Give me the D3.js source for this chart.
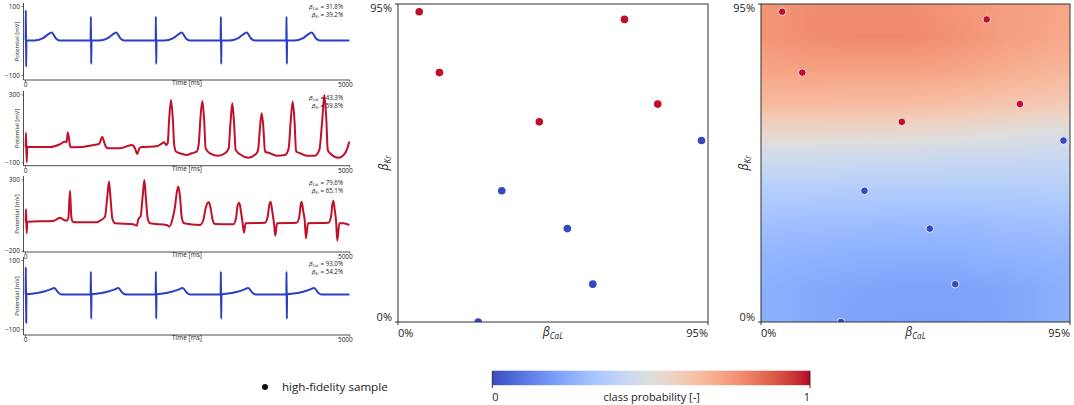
<!DOCTYPE html>
<html><head><meta charset="utf-8">
<script src="https://cdn.jsdelivr.net/npm/d3@7"></script>
<style>body{margin:0;background:#fff;} svg{display:block;font-family:"Open Sans",sans-serif;}</style>
</head><body>
<script>
// ---------------- DATA ----------------
const timeTicks = [0, 5000];
// [time ms, potential mV]
const trace1 = [[0,0],[10,0],[13,88],[18,-76],[22,0],
 [140,0],[270,6],[350,17],[410,23],[480,5],[530,0],
 [1012,0],[1016,69],[1021,-68],[1025,0],
 [1140,0],[1270,6],[1350,17],[1405,23],[1475,5],[1530,0],
 [2015,0],[2018,69],[2023,-68],[2027,0],
 [2150,0],[2280,6],[2360,17],[2415,23],[2485,5],[2540,0],
 [3017,0],[3020,69],[3025,-68],[3029,0],
 [3150,0],[3280,6],[3360,17],[3417,23],[3487,5],[3540,0],
 [4029,0],[4032,69],[4037,-68],[4041,0],
 [4150,0],[4280,6],[4360,17],[4420,23],[4490,5],[4545,0],
 [5000,0]];
const trace2 = [[0,-12],[10,-10],[15,74],[26,-100],[36,-10],[385,-10],[540,6],[617,22],[642,18],[658,76],[678,41],[694,-4],[719,-12],
 [1131,6],[1156,18],[1192,51],[1218,22],[1249,-10],[1285,-18],[1465,-18],[1644,2],[1670,-2],[1696,-18],[1732,-51],[1763,-18],[1799,-10],
 [2030,-6],[2107,10],[2148,18],[2174,2],[2200,12],[2222,150],[2251,267],[2280,150],[2300,2],[2328,-37],[2390,-47],[2492,-57],[2570,-47],[2647,-37],
 [2677,2],[2703,150],[2734,261],[2762,150],[2785,-18],[2852,-47],[2981,-61],[3083,-47],[3140,-18],[3166,120],[3196,247],[3225,120],[3248,-27],
 [3315,-53],[3443,-73],[3572,-47],[3597,-18],[3622,100],[3649,188],[3676,100],[3700,-37],[3777,-47],[3880,-61],[4008,-57],[4065,-18],
 [4096,139],[4127,257],[4156,139],[4180,-37],[4240,-47],[4342,-61],[4471,-61],[4538,-27],[4585,159],[4615,296],[4645,159],[4668,-27],
 [4702,-47],[4831,-73],[4933,-47],[4969,-18],[5000,22]];
const trace3 = [[0,3],[10,3],[15,90],[26,-78],[36,3],[437,8],[488,20],[540,31],[601,15],[642,10],[668,27],[694,221],[714,38],[735,3],[771,-1],
 [1105,-1],[1156,10],[1233,38],[1269,179],[1295,284],[1321,155],[1346,27],[1388,-8],[1670,-15],[1722,-25],[1747,20],[1783,43],[1814,179],
 [1840,295],[1866,155],[1891,27],[1927,-8],[2184,-20],[2225,-32],[2277,27],[2313,108],[2338,202],[2364,249],[2390,179],[2415,38],[2451,-8],
 [2698,-20],[2749,15],[2785,97],[2811,132],[2837,139],[2862,97],[2893,15],[2929,-13],[3212,-15],[3253,27],[3279,120],[3304,136],[3330,73],
 [3356,-8],[3376,-74],[3402,-8],[3700,-4],[3741,38],[3767,120],[3787,143],[3813,73],[3839,-8],[3859,-95],[3885,-8],[4188,-4],[4229,38],
 [4250,120],[4265,143],[4291,73],[4312,15],[4332,-113],[4363,-8],[4677,-4],[4718,38],[4738,120],[4754,150],[4779,73],[4795,15],[4815,-130],
 [4846,-8],[4908,-8],[5000,-20]];
const trace4 = [[0,0],[10,0],[13,79],[18,-82],[22,1],
 [100,2],[280,8],[385,14],[452,19],[515,5],[565,0],
 [1012,0],[1016,66],[1021,-70],[1025,1],
 [1100,2],[1270,8],[1375,14],[1440,19],[1500,5],[1555,0],
 [2015,0],[2018,66],[2023,-70],[2027,1],
 [2100,2],[2265,8],[2365,14],[2431,19],[2495,5],[2545,0],
 [3017,0],[3020,66],[3025,-70],[3029,1],
 [3100,2],[3275,8],[3375,14],[3443,19],[3505,5],[3555,0],
 [4029,0],[4032,66],[4037,-70],[4041,1],
 [4110,2],[4290,8],[4390,14],[4456,19],[4520,5],[4570,0],
 [5000,0]];
const traceClass = [0, 1, 1, 0];
const potentialTicks = [[-100,100],[-100,300],[-200,300],[-100,100]];
const betaCaL = [31.8, 43.3, 79.6, 93.0];
const betaKr  = [39.2, 59.8, 65.1, 54.2];

// high-fidelity samples (%)
const sampleCaL = [6.5, 12.7, 43.3, 69.4, 79.6, 31.8, 51.9, 59.7, 24.6, 93.0];
const sampleKr  = [92.7, 74.5, 59.8, 90.4, 65.1, 39.2, 27.9, 11.3, 0.0, 54.2];
const sampleClass = [1, 1, 1, 1, 1, 0, 0, 0, 0, 0];
const betaTicks = [0, 95];

// estimated class-probability field (rows: gridKr ascending, cols: gridCaL)
const gridCaL = [0, 15, 30, 45, 60, 75, 95];
const gridKr  = [0, 10, 20, 30, 40, 50, 57, 65, 75, 85, 95];
const probGrid = [
 [0.25, 0.23, 0.21, 0.20, 0.20, 0.22, 0.25],
 [0.25, 0.23, 0.22, 0.21, 0.21, 0.22, 0.25],
 [0.27, 0.26, 0.25, 0.25, 0.25, 0.26, 0.27],
 [0.31, 0.30, 0.30, 0.29, 0.29, 0.30, 0.31],
 [0.37, 0.37, 0.36, 0.36, 0.36, 0.36, 0.37],
 [0.46, 0.46, 0.45, 0.45, 0.44, 0.44, 0.43],
 [0.55, 0.55, 0.55, 0.54, 0.53, 0.51, 0.49],
 [0.66, 0.66, 0.65, 0.65, 0.64, 0.62, 0.60],
 [0.72, 0.73, 0.73, 0.73, 0.72, 0.70, 0.67],
 [0.76, 0.78, 0.79, 0.79, 0.77, 0.74, 0.71],
 [0.76, 0.78, 0.78, 0.78, 0.76, 0.74, 0.72]];
const colorbarTicks = [0, 1];

// coolwarm colormap
const coolwarm = ["#3b4cc0","#445acc","#4d68d7","#5775e1","#6282ea","#6c8ef1","#779af7","#82a5fb","#8db0fe","#98b9ff","#a3c2ff","#aec9fd","#b8d0f9","#c2d5f4","#ccd9ee","#d5dbe6","#dddddd","#e5d8d1","#ecd3c5","#f1ccb9","#f5c4ad","#f7bba0","#f7b194","#f7a687","#f49a7b","#f18d6f","#ec7f63","#e57058","#de604d","#d55042","#cb3e38","#c0282f","#b40426"];

// ---------------- DRAW ----------------
const W = 1074, H = 405;
const svg = d3.select("body").append("svg").attr("width", W).attr("height", H);
const cmap = d3.scaleLinear(d3.range(coolwarm.length).map(i => i/(coolwarm.length-1)), coolwarm).interpolate(d3.interpolateRgb).clamp(true);
const lineBlue = "#2a3ec6", lineRed = "#c1112a";
const dotRed = "#bf0d2b", dotBlue = "#3448c4";
const ink = "#222";

function betaText(sel, sub, size, rest, subScale, shift) {
  subScale = subScale || 0.68; shift = shift || 0.25;
  sel.append("tspan").attr("font-style","italic").text("β");
  sel.append("tspan").attr("font-style","italic").attr("font-size", size*subScale).attr("dy", size*shift).text(sub);
  if (rest) sel.append("tspan").attr("dy", -size*shift).text(rest);
}

// ---- Left: traces ----
const traceLayout = [
  {yPx:[75,6],       axisY:80,    top:3,   annY:[8.6,16.8]},
  {yPx:[162.3,94.3], axisY:165.7, top:91,  annY:[100.2,107.8]},
  {yPx:[250.7,179.3],axisY:252,   top:176, annY:[185.2,192.6]},
  {yPx:[329,260],    axisY:335,   top:257, annY:[266,273.8]}
];
const traces = [trace1, trace2, trace3, trace4];
const xT = d3.scaleLinear(timeTicks, [25, 349.3]);
const spineX = 23.5;
traceLayout.forEach((L, i) => {
  const g = svg.append("g");
  const yS = d3.scaleLinear(potentialTicks[i], L.yPx);
  g.append("line").attr("x1",spineX).attr("x2",spineX).attr("y1",L.top).attr("y2",L.axisY).attr("stroke",ink).attr("stroke-width",0.8);
  g.append("line").attr("x1",spineX).attr("x2",350).attr("y1",L.axisY).attr("y2",L.axisY).attr("stroke",ink).attr("stroke-width",0.8);
  const ya = g.append("g").attr("transform",`translate(${spineX},0)`)
    .call(d3.axisLeft(yS).tickValues(potentialTicks[i]).tickSize(2).tickPadding(1.5));
  ya.select(".domain").remove();
  ya.attr("font-size",6.5).attr("font-family",null);
  ya.selectAll("line").attr("stroke",ink).attr("stroke-width",0.6);
  ya.selectAll("text").attr("fill",ink);
  const xa = g.append("g").attr("transform",`translate(0,${L.axisY})`)
    .call(d3.axisBottom(xT).tickValues(timeTicks).tickSize(2).tickPadding(0.5).tickFormat(d3.format("d")));
  xa.select(".domain").remove();
  xa.attr("font-size",6.5).attr("font-family",null);
  xa.selectAll("line").attr("stroke",ink).attr("stroke-width",0.6);
  xa.selectAll("text").attr("fill",ink).attr("text-anchor",(d)=> d===5000 ? "end" : "middle").attr("dx",(d)=> d===5000 ? 3 : 0);
  g.append("text").attr("x",187).attr("y",L.axisY+5).attr("font-size",6.5).attr("fill",ink).attr("text-anchor","middle").text("Time [ms]");
  const cy = (L.top + L.axisY)/2;
  g.append("text").attr("transform",`translate(18.5,${cy}) rotate(-90)`).attr("font-size",6).attr("fill",ink).attr("text-anchor","middle").text("Potential [mV]");
  const line = d3.line().x(d => xT(d[0])).y(d => yS(d[1])).curve(d3.curveMonotoneX);
  g.append("path").datum(traces[i]).attr("d", line).attr("fill","none")
    .attr("stroke", traceClass[i] ? lineRed : lineBlue).attr("stroke-width",2).attr("stroke-linejoin","round");
  const t1 = g.append("text").attr("x",343).attr("y",L.annY[0]).attr("font-size",6.2).attr("fill",ink).attr("text-anchor","end");
  betaText(t1, "CaL", 6.2, ` = ${betaCaL[i].toFixed(1)}%`, 0.62, 0.15);
  const t2 = g.append("text").attr("x",343).attr("y",L.annY[1]).attr("font-size",6.2).attr("fill",ink).attr("text-anchor","end");
  betaText(t2, "Kr", 6.2, ` = ${betaKr[i].toFixed(1)}%`, 0.62, 0.15);
});

// ---- Scatter panels ----
function panel(id, x0, x1, yb, yt, heat, ylabOff) {
  const g = svg.append("g");
  const xS = d3.scaleLinear(betaTicks, [x0, x1]);
  const yS = d3.scaleLinear(betaTicks, [yb, yt]);
  g.append("clipPath").attr("id", id).append("rect").attr("x",x0).attr("y",yt).attr("width",x1-x0).attr("height",yb-yt);
  if (heat) {
    const w = Math.round(x1-x0), h = Math.round(yb-yt);
    const cv = document.createElement("canvas"); cv.width = w; cv.height = h;
    const ctx = cv.getContext("2d");
    const img = ctx.createImageData(w, h);
    const ix = d3.scaleLinear(gridCaL, d3.range(gridCaL.length)).clamp(true);
    const iy = d3.scaleLinear(gridKr, d3.range(gridKr.length)).clamp(true);
    for (let j = 0; j < h; j++) {
      const fy = iy(yS.invert(yt + j + 0.5));
      const r0 = Math.min(Math.floor(fy), gridKr.length-2), ty = fy - r0;
      for (let i = 0; i < w; i++) {
        const fx = ix(xS.invert(x0 + i + 0.5));
        const c0 = Math.min(Math.floor(fx), gridCaL.length-2), tx = fx - c0;
        const p = (1-ty)*((1-tx)*probGrid[r0][c0] + tx*probGrid[r0][c0+1]) + ty*((1-tx)*probGrid[r0+1][c0] + tx*probGrid[r0+1][c0+1]);
        const c = d3.rgb(cmap(p));
        const k = (j*w + i)*4;
        img.data[k]=c.r; img.data[k+1]=c.g; img.data[k+2]=c.b; img.data[k+3]=255;
      }
    }
    ctx.putImageData(img, 0, 0);
    g.append("image").attr("x",x0).attr("y",yt).attr("width",w).attr("height",h).attr("preserveAspectRatio","none").attr("href", cv.toDataURL());
  }
  const pts = sampleCaL.map((v,k) => ({x:v, y:sampleKr[k], c:sampleClass[k]}));
  g.append("g").attr("clip-path",`url(#${id})`).selectAll("circle").data(pts).join("circle")
    .attr("cx", d => xS(d.x)).attr("cy", d => yS(d.y)).attr("r", 3.8)
    .attr("fill", d => d.c ? dotRed : dotBlue)
    .attr("stroke", heat ? "#fff" : "none").attr("stroke-width", 0.8);
  g.append("rect").attr("x",x0).attr("y",yt).attr("width",x1-x0).attr("height",yb-yt).attr("fill","none").attr("stroke","#333").attr("stroke-width",1);
  betaTicks.forEach(t => {
    g.append("line").attr("x1",xS(t)).attr("x2",xS(t)).attr("y1",yb).attr("y2",yb+3).attr("stroke","#333");
    g.append("line").attr("x1",x0-3).attr("x2",x0).attr("y1",yS(t)).attr("y2",yS(t)).attr("stroke","#333");
  });
  g.append("text").attr("x",x0-6).attr("y",yt+7.5).attr("text-anchor","end").attr("font-size",11).attr("fill",ink).text(betaTicks[1]+"%");
  g.append("text").attr("x",x0-6).attr("y",yb-1.5).attr("text-anchor","end").attr("font-size",11).attr("fill",ink).text(betaTicks[0]+"%");
  g.append("text").attr("x",x0).attr("y",yb+15).attr("text-anchor","start").attr("font-size",11).attr("fill",ink).text(betaTicks[0]+"%");
  g.append("text").attr("x",x1).attr("y",yb+15).attr("text-anchor","end").attr("font-size",11).attr("fill",ink).text(betaTicks[1]+"%");
  const xl = g.append("text").attr("x",(x0+x1)/2).attr("y",yb+14).attr("text-anchor","middle").attr("font-size",12).attr("fill",ink);
  betaText(xl, "CaL", 12);
  const yl = g.append("text").attr("transform",`translate(${x0-ylabOff},${(yt+yb)/2}) rotate(-90)`).attr("text-anchor","middle").attr("font-size",12).attr("fill",ink);
  betaText(yl, "Kr", 12);
}
panel("clipMid", 398, 708, 322, 4, false, 10);
panel("clipRight", 761, 1070, 322, 4, true, 13);

// ---- Legend ----
svg.append("circle").attr("cx",265).attr("cy",387).attr("r",3).attr("fill","#111");
svg.append("text").attr("x",282).attr("y",391).attr("font-size",11.6).attr("fill",ink).text("high-fidelity sample");

// ---- Colorbar ----
const cbX = d3.scaleLinear(colorbarTicks, [492.3, 810]);
const grad = svg.append("defs").append("linearGradient").attr("id","cw");
coolwarm.forEach((c,i) => grad.append("stop").attr("offset", (i/(coolwarm.length-1)*100)+"%").attr("stop-color", c));
svg.append("rect").attr("x",cbX(0)).attr("y",370.7).attr("width",cbX(1)-cbX(0)).attr("height",14.5).attr("fill","url(#cw)");
colorbarTicks.forEach(t => {
  svg.append("line").attr("x1",cbX(t)).attr("x2",cbX(t)).attr("y1",371).attr("y2",388).attr("stroke","#333").attr("stroke-width",1);
});
svg.append("text").attr("x",cbX(0)).attr("y",400.5).attr("font-size",11).attr("fill",ink).attr("text-anchor","start").text(String(colorbarTicks[0]));
svg.append("text").attr("x",cbX(1)).attr("y",400.5).attr("font-size",11).attr("fill",ink).attr("text-anchor","end").text(String(colorbarTicks[1]));
svg.append("text").attr("x",651.7).attr("y",400.5).attr("font-size",11).attr("fill",ink).attr("text-anchor","middle").text("class probability [-]");
</script>
</body></html>
